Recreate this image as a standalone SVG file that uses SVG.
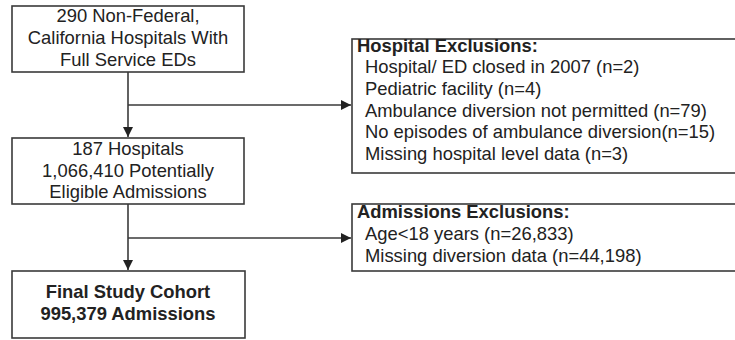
<svg xmlns="http://www.w3.org/2000/svg" width="735" height="340" viewBox="0 0 735 340">
<defs>
<style>
.box{fill:#fff;stroke:#3a3a3a;stroke-width:1.6}
.t{font-family:"Liberation Sans",Arial,sans-serif;font-size:18.4px;fill:#222}
.c{text-anchor:middle}
.b{font-weight:bold}
.ln{stroke:#3a3a3a;stroke-width:1.6;fill:none}
</style>
<marker id="ah" viewBox="0 0 10 10" refX="10" refY="5" markerWidth="10" markerHeight="10" markerUnits="userSpaceOnUse" orient="auto">
<path d="M0,0 L10,5 L0,10 z" fill="#222"/>
</marker>
</defs>
<rect width="735" height="340" fill="#fff"/>
<g id="connectors">
<line class="ln" x1="128" y1="72" x2="128" y2="137" marker-end="url(#ah)"/>
<line class="ln" x1="128" y1="105" x2="351" y2="105" marker-end="url(#ah)"/>
<line class="ln" x1="128" y1="204" x2="128" y2="270" marker-end="url(#ah)"/>
<line class="ln" x1="128" y1="238" x2="351" y2="238" marker-end="url(#ah)"/>
</g>
<g id="n1">
<rect class="box" x="12" y="6" width="232" height="66"/>
<text class="t c" x="128" y="22">290 Non-Federal,</text>
<text class="t c" x="128" y="44">California Hospitals With</text>
<text class="t c" x="128" y="66">Full Service EDs</text>
</g>
<g id="n2">
<rect class="box" x="12" y="138" width="232" height="66"/>
<text class="t c" x="128" y="155">187 Hospitals</text>
<text class="t c" x="128" y="177">1,066,410 Potentially</text>
<text class="t c" x="128" y="198">Eligible Admissions</text>
</g>
<g id="n3">
<rect class="box" x="12" y="271" width="233" height="67"/>
<text class="t c b" x="128" y="298">Final Study Cohort</text>
<text class="t c b" x="128" y="320">995,379 Admissions</text>
</g>
<g id="n4">
<rect class="box" x="352" y="39" width="400" height="134"/>
<text class="t b" x="357" y="52">Hospital Exclusions:</text>
<text class="t" x="365" y="73">Hospital/ ED closed in 2007 (n=2)</text>
<text class="t" x="365" y="95">Pediatric facility (n=4)</text>
<text class="t" x="365" y="117">Ambulance diversion not permitted (n=79)</text>
<text class="t" x="365" y="138">No episodes of ambulance diversion(n=15)</text>
<text class="t" x="365" y="160">Missing hospital level data (n=3)</text>
</g>
<g id="n5">
<rect class="box" x="352" y="204" width="400" height="67"/>
<text class="t b" x="357" y="218">Admissions Exclusions:</text>
<text class="t" x="365" y="240">Age&lt;18 years (n=26,833)</text>
<text class="t" x="365" y="262">Missing diversion data (n=44,198)</text>
</g>
</svg>
